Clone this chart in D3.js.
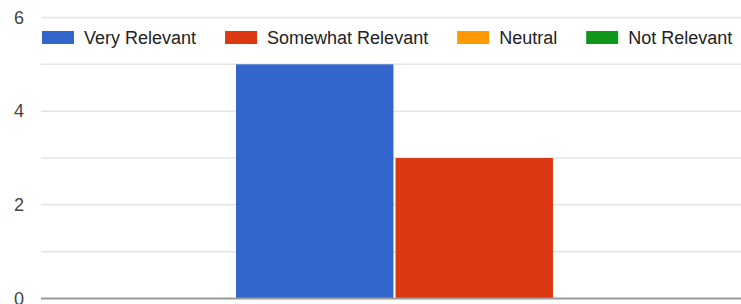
<!DOCTYPE html>
<html>
<head>
<meta charset="utf-8">
<script src="https://cdn.jsdelivr.net/npm/d3@7"></script>
<style>
  html, body { margin: 0; padding: 0; background: #fff; }
  svg { display: block; font-family: "Liberation Sans", Arial, sans-serif; }
</style>
</head>
<body>
<div id="chart"></div>
<script>
// dati
const SERIES = ['Very Relevant', 'Somewhat Relevant', 'Neutral', 'Not Relevant'];
const VALUES = [5, 3, 0, 0];
const COLORS = ['#3366cc', '#dc3912', '#ff9900', '#109618'];
const TICKS = [0, 2, 4, 6];
const GRID = [0, 1, 2, 3, 4, 5, 6];

const W = 741, H = 304;

const svg = d3.select('#chart').append('svg')
    .attr('width', W).attr('height', H);

// scale
const y = d3.scaleLinear().domain([0, 6]).range([298.5, 17.5]);
const x = d3.scaleBand().domain(SERIES).range([236, 236 + 4 * 159]).paddingInner(0.013);
const color = d3.scaleOrdinal().domain(SERIES).range(COLORS);

// griglia
svg.append('g')
    .selectAll('line')
    .data(GRID.filter(d => d > 0))
    .join('line')
    .attr('x1', 41).attr('x2', W)
    .attr('y1', d => y(d)).attr('y2', d => y(d))
    .attr('stroke', '#e4e4e4').attr('stroke-width', 1.5);

// asse y
const yAxis = svg.append('g')
    .attr('transform', 'translate(24,0)')
    .call(d3.axisLeft(y).tickValues(TICKS).tickFormat(d3.format('d')).tickSize(0).tickPadding(0));
yAxis.select('.domain').remove();
yAxis.selectAll('text')
    .attr('font-size', 18)
    .attr('font-family', '"Liberation Sans", Arial, sans-serif')
    .attr('fill', '#444');

// barre
svg.append('g')
    .selectAll('rect')
    .data(SERIES.map((s, i) => ({ s, v: VALUES[i] })))
    .join('rect')
    .attr('x', d => x(d.s))
    .attr('width', x.bandwidth())
    .attr('y', d => y(d.v))
    .attr('height', d => y(0) - y(d.v))
    .attr('fill', d => color(d.s));

// baseline
svg.append('line')
    .attr('x1', 41).attr('x2', W)
    .attr('y1', y(0)).attr('y2', y(0))
    .attr('stroke', '#999').attr('stroke-width', 2);

// legenda
const legend = svg.append('g').attr('transform', 'translate(42,31)');
let lx = 0;
SERIES.forEach((s) => {
    const g = legend.append('g').attr('transform', `translate(${lx},0)`);
    g.append('rect')
        .attr('width', 32).attr('height', 13)
        .attr('fill', color(s));
    const t = g.append('text')
        .attr('x', 42).attr('y', 13)
        .attr('font-size', 18)
        .attr('fill', '#222')
        .text(s);
    lx += 42 + t.node().getComputedTextLength() + 29;
});
</script>
</body>
</html>
